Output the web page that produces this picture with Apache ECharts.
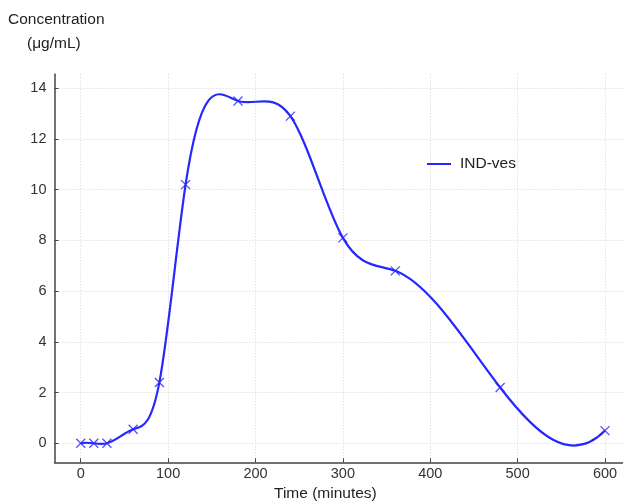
<!DOCTYPE html>
<html>
<head>
<meta charset="utf-8">
<script src="https://cdn.jsdelivr.net/npm/echarts@6/dist/echarts.min.js"></script>
<style>html,body{margin:0;padding:0;background:#fff}#c{width:625px;height:504px}</style>
</head>
<body>
<div id="c"></div>
<script>
// Data
const timeMinutes = [0, 15, 30, 60, 90, 120, 180, 240, 300, 360, 480, 600];
const concentration = [0, 0, 0, 0.55, 2.4, 10.2, 13.5, 12.9, 8.1, 6.8, 2.2, 0.5];
const seriesName = 'IND-ves';
const xTicks = [0, 100, 200, 300, 400, 500, 600];
const yTicks = [0, 2, 4, 6, 8, 10, 12, 14];

// Cubic spline (not-a-knot) second derivatives -> slopes at knots
function splineSlopes(x, y) {
  const n = x.length;
  const h = [];
  for (let i = 0; i < n - 1; i++) h.push(x[i + 1] - x[i]);
  const A = [], b = [];
  for (let i = 0; i < n; i++) { A.push(new Array(n).fill(0)); b.push(0); }
  A[0][0] = -h[1]; A[0][1] = h[0] + h[1]; A[0][2] = -h[0];
  for (let i = 1; i < n - 1; i++) {
    A[i][i - 1] = h[i - 1];
    A[i][i] = 2 * (h[i - 1] + h[i]);
    A[i][i + 1] = h[i];
    b[i] = 6 * ((y[i + 1] - y[i]) / h[i] - (y[i] - y[i - 1]) / h[i - 1]);
  }
  A[n - 1][n - 3] = -h[n - 2]; A[n - 1][n - 2] = h[n - 2] + h[n - 3]; A[n - 1][n - 1] = -h[n - 3];
  for (let c = 0; c < n; c++) {
    let p = c;
    for (let r = c + 1; r < n; r++) if (Math.abs(A[r][c]) > Math.abs(A[p][c])) p = r;
    [A[c], A[p]] = [A[p], A[c]]; [b[c], b[p]] = [b[p], b[c]];
    for (let r = c + 1; r < n; r++) {
      const f = A[r][c] / A[c][c];
      for (let k = c; k < n; k++) A[r][k] -= f * A[c][k];
      b[r] -= f * b[c];
    }
  }
  const M = new Array(n).fill(0);
  for (let r = n - 1; r >= 0; r--) {
    let s = b[r];
    for (let k = r + 1; k < n; k++) s -= A[r][k] * M[k];
    M[r] = s / A[r][r];
  }
  const d = [];
  for (let i = 0; i < n - 1; i++) d.push((y[i + 1] - y[i]) / h[i] - h[i] * (2 * M[i] + M[i + 1]) / 6);
  const last = n - 2;
  d.push((y[n - 1] - y[last]) / h[last] + h[last] * (M[last] + 2 * M[n - 1]) / 6);
  return d;
}
const slopes = splineSlopes(timeMinutes, concentration);

const lineColor = '#2626ff';
const axisColor = '#444';
const labelColor = '#333';
const fontFamily = 'Liberation Sans, Arial, sans-serif';

const chart = echarts.init(document.getElementById('c'));
chart.setOption({
  animation: false,
  backgroundColor: '#fff',
  grid: { left: 54.5, right: 2.5, top: 74.3, bottom: 41.7, containLabel: false },
  legend: {
    data: [{ name: seriesName, icon: 'rect' }],
    left: 427, top: 156, padding: 0,
    itemWidth: 24, itemHeight: 2, itemGap: 8,
    textStyle: { fontFamily, fontSize: 15.5, color: '#222', padding: [0, 0, 0, 4] }
  },
  xAxis: {
    type: 'value', min: -30, max: 620,
    axisLine: { show: true, onZero: false, lineStyle: { color: axisColor, width: 1.5 } },
    axisTick: { show: true, inside: true, length: 4, customValues: xTicks, lineStyle: { color: axisColor } },
    axisLabel: { customValues: xTicks, margin: 4, fontFamily, fontSize: 14.5, color: labelColor },
    splitLine: { show: true, lineStyle: { color: '#d4d4d4', type: [1, 2], width: 1 } }
  },
  yAxis: {
    type: 'value', min: -0.75, max: 14.55,
    axisLine: { show: true, onZero: false, lineStyle: { color: axisColor, width: 1.5 } },
    axisTick: { show: true, inside: true, length: 4, customValues: yTicks, lineStyle: { color: axisColor } },
    axisLabel: { customValues: yTicks, margin: 8, fontFamily, fontSize: 14.5, color: labelColor },
    splitLine: { show: true, lineStyle: { color: '#d4d4d4', type: [1, 2], width: 1 } }
  },
  graphic: [
    { type: 'text', left: 8, top: 12, style: { text: 'Concentration', font: '15.5px ' + fontFamily, fill: '#222' } },
    { type: 'text', left: 27, top: 36, style: { text: '(μg/mL)', font: '15.5px ' + fontFamily, fill: '#222' } },
    { type: 'text', left: 274, top: 486, style: { text: 'Time (minutes)', font: '15.5px ' + fontFamily, fill: '#222' } }
  ],
  series: [
    {
      name: seriesName,
      type: 'custom',
      itemStyle: { color: lineColor },
      data: timeMinutes.map((t, i) => [t, concentration[i], i]),
      renderItem: function (params, api) {
        const i = api.value(2);
        if (i >= timeMinutes.length - 1) return null;
        const x0 = timeMinutes[i], y0 = concentration[i];
        const x1 = timeMinutes[i + 1], y1 = concentration[i + 1];
        const h = x1 - x0;
        const p0 = api.coord([x0, y0]);
        const c1 = api.coord([x0 + h / 3, y0 + slopes[i] * h / 3]);
        const c2 = api.coord([x1 - h / 3, y1 - slopes[i + 1] * h / 3]);
        const p1 = api.coord([x1, y1]);
        return {
          type: 'bezierCurve',
          shape: { x1: p0[0], y1: p0[1], cpx1: c1[0], cpy1: c1[1], cpx2: c2[0], cpy2: c2[1], x2: p1[0], y2: p1[1] },
          style: { stroke: lineColor, lineWidth: 2.2, fill: null },
          silent: true
        };
      },
      z: 3
    },
    {
      name: 'markers',
      type: 'scatter',
      data: timeMinutes.map((t, i) => [t, concentration[i]]),
      symbol: 'path://M0,0L10,10M10,0L0,10',
      symbolSize: 9,
      itemStyle: { color: 'none', borderColor: lineColor, borderWidth: 1.3 },
      z: 4
    }
  ]
});
</script>
</body>
</html>
